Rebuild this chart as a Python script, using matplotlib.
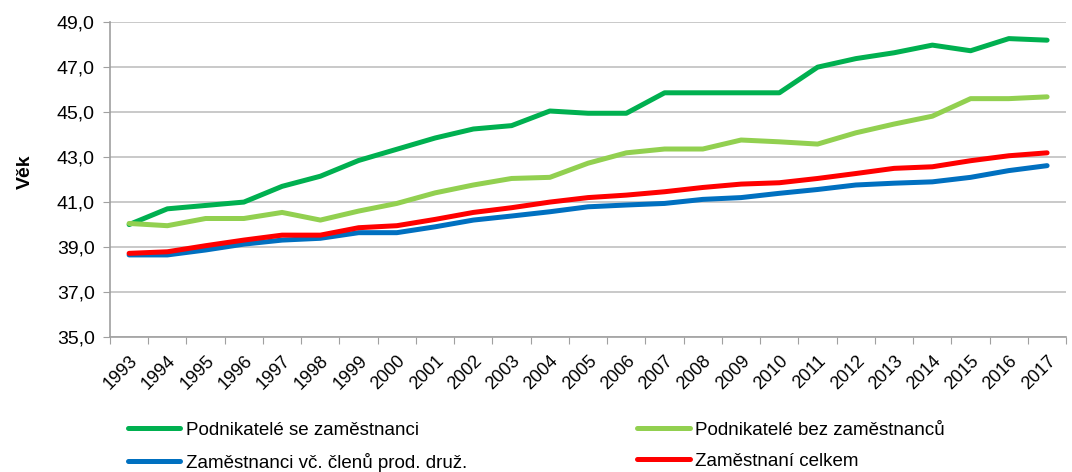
import matplotlib
matplotlib.use("Agg")
import matplotlib.pyplot as plt
import matplotlib.transforms as mtransforms
import numpy as np

plt.rcParams['font.family'] = ['Liberation Sans', 'DejaVu Sans']

years = [str(y) for y in range(1993, 2018)]

# Průměrný věk podle skupin
se_zam = [40.0, 40.7, 40.85, 41.0, 41.7, 42.15, 42.85, 43.35, 43.85, 44.25, 44.4, 45.05,
          44.95, 44.95, 45.86, 45.86, 45.86, 45.86, 47.0, 47.38, 47.64, 47.98, 47.73, 48.27, 48.2]
bez_zam = [40.05, 39.95, 40.27, 40.27, 40.54, 40.2, 40.6, 40.94, 41.41, 41.76, 42.05, 42.1,
           42.73, 43.19, 43.36, 43.36, 43.76, 43.68, 43.58, 44.08, 44.47, 44.82, 45.6, 45.6, 45.68]
zamestnanci = [38.65, 38.65, 38.87, 39.13, 39.31, 39.39, 39.64, 39.64, 39.9, 40.2, 40.38, 40.57,
               40.79, 40.87, 40.94, 41.12, 41.2, 41.39, 41.56, 41.76, 41.84, 41.9, 42.1, 42.4, 42.62]
celkem = [38.72, 38.79, 39.06, 39.31, 39.53, 39.53, 39.86, 39.95, 40.23, 40.54, 40.75, 41.0,
          41.2, 41.31, 41.46, 41.65, 41.8, 41.86, 42.05, 42.27, 42.5, 42.57, 42.84, 43.06, 43.19]

labels = ['Podnikatelé se zaměstnanci', 'Podnikatelé bez zaměstnanců',
          'Zaměstnanci vč. členů prod. druž.', 'Zaměstnaní celkem']
colors = ['#00B050', '#92D050', '#0070C0', '#FF0000']

fig = plt.figure(figsize=(10.72, 4.72), dpi=100)
ax = fig.add_axes([0.1026, 0.286, 0.892, 0.667])

x = np.arange(len(years))
lines = []
for vals, lab, col in zip([se_zam, bez_zam, zamestnanci, celkem], labels, colors):
    ln, = ax.plot(x, vals, color=col, lw=3.6, label=lab, solid_capstyle='round', zorder=3)
    lines.append(ln)

ax.set_xlim(-0.5, len(years) - 0.5)
ax.set_ylim(35, 49)
ax.set_yticks(np.arange(35, 50, 2))
ax.set_yticklabels([f'{v:.1f}'.replace('.', ',') for v in np.arange(35, 50, 2)], fontsize=14)

# tick marks na hranicích kategorií, popisky uprostřed
ax.set_xticks(np.arange(-0.5, len(years), 1.0))
ax.set_xticklabels([])
ax.set_xticks(x, minor=True)
ax.set_xticklabels(years, minor=True, rotation=45, ha='right', va='top',
                   rotation_mode='anchor', fontsize=13)
shift = mtransforms.ScaledTranslation(0.02, 0, fig.dpi_scale_trans)
for lbl in ax.get_xticklabels(minor=True):
    lbl.set_transform(lbl.get_transform() + shift)
ax.tick_params(axis='x', which='minor', length=0, pad=11)
ax.tick_params(axis='x', which='major', length=5, color='#a0a0a0')
ax.tick_params(axis='y', length=5, color='#a0a0a0', pad=6)

ax.grid(axis='y', color='#c0c0c0', lw=1.2)
ax.set_axisbelow(True)
for s in ['top', 'right']:
    ax.spines[s].set_visible(False)
for s in ['left', 'bottom']:
    ax.spines[s].set_color('#a0a0a0')
    ax.spines[s].set_linewidth(1.2)

ax.set_ylabel('Věk', fontsize=14, fontweight='bold')
ax.yaxis.set_label_coords(-0.08, 0.524)

order = [0, 2, 1, 3]
fig.legend([lines[i] for i in order], [labels[i] for i in order], ncol=2,
           loc='upper left', bbox_to_anchor=(0.1124, 0.122), frameon=False,
           fontsize=13.5, handlelength=2.8, handletextpad=0.27, columnspacing=9.1,
           labelspacing=0.72, borderaxespad=0)

fig.savefig('out.png', dpi=100)
